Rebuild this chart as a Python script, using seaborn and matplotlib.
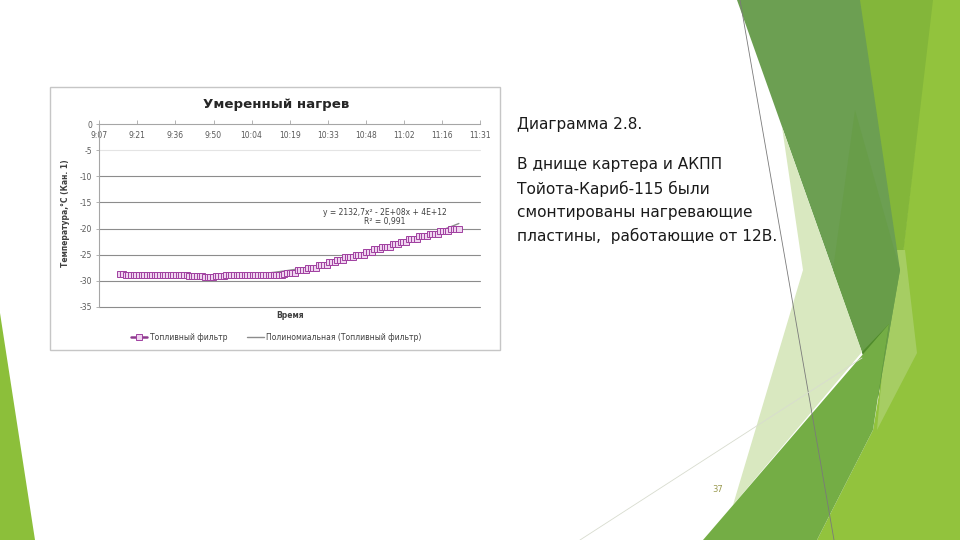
import numpy as np
import pandas as pd
import matplotlib.pyplot as plt
import seaborn as sns
from matplotlib.patches import Polygon, Rectangle
from matplotlib.lines import Line2D

sns.set_theme(style="white")
plt.rcParams['font.family'] = ['DejaVu Sans']

# chart data
chart_title = "Умеренный нагрев"
x_tick_labels = ["9:07", "9:21", "9:36", "9:50", "10:04", "10:19",
                 "10:33", "10:48", "11:02", "11:16", "11:31"]
y_ticks = [0, -5, -10, -15, -20, -25, -30, -35]
series_name = "Топливный фильтр"
trend_name = "Полиномиальная (Топливный фильтр)"
trend_eq = "y = 2132,7x² - 2E+08x + 4E+12"
trend_r2 = "R² = 0,991"

# logger readings every minute, 9:15 .. 11:23
times = pd.date_range("2000-01-01 09:15", "2000-01-01 11:23", freq="1min")
temps = [-28.8, -28.8, -28.9, -29.0, -29.0, -29.0, -29.0, -29.0, -29.0, -29.0,
         -29.0, -29.0, -29.0, -29.0, -29.0, -29.0, -29.0, -29.0, -29.0, -29.0,
         -29.0, -29.0, -29.0, -29.0, -29.0, -29.0, -29.1, -29.1, -29.2, -29.2,
         -29.2, -29.2, -29.3, -29.3, -29.3, -29.3, -29.2, -29.2, -29.1, -29.1,
         -29.0, -29.0, -29.0, -29.0, -29.0, -29.0, -29.0, -29.0, -29.0, -29.0,
         -29.0, -29.0, -29.0, -29.0, -29.0, -29.0, -29.0, -29.0, -29.0, -29.0,
         -29.0, -29.0,
         -28.8, -28.5, -28.5, -28.5, -28.5, -28.0, -28.0, -28.0, -28.0, -27.5,
         -27.5, -27.5, -27.5, -27.0, -27.0, -27.0, -27.0, -26.5, -26.5, -26.5,
         -26.0, -26.0, -26.0, -25.5, -25.5, -25.5, -25.5, -25.0, -25.0, -25.0,
         -25.0, -24.5, -24.5, -24.5, -24.0, -24.0, -24.0, -23.5, -23.5, -23.5,
         -23.5, -23.0, -23.0, -23.0, -22.5, -22.5, -22.5, -22.0, -22.0, -22.0,
         -22.0, -21.5, -21.5, -21.5, -21.5, -21.0, -21.0, -21.0, -21.0, -20.5,
         -20.5, -20.5, -20.5, -20.0, -20.0, -20.0, -20.0]

slide_heading = "Диаграмма 2.8."
slide_lines = ["В днище картера и АКПП",
               "Тойота-Кариб-115 были",
               "смонтированы нагревающие",
               "пластины,  работающие от 12В."]

df = pd.DataFrame({
    "t": (times - pd.Timestamp("2000-01-01 09:07")) / pd.Timedelta(minutes=1),
    "temp": temps,
})

fig = plt.figure(figsize=(9.6, 5.4), dpi=100)
fig.patch.set_facecolor("white")

# background layer in pixel coordinates (slide decoration)
bg = fig.add_axes([0, 0, 1, 1])
bg.set_xlim(0, 960)
bg.set_ylim(540, 0)
bg.axis("off")

shapes = [
    ([(0, 313), (35, 540), (0, 540)], "#8cbf3a"),
    ([(932, 0), (960, 0), (960, 540), (817, 540), (873, 430), (903, 250)], "#92c33d"),
    ([(859, 0), (933, 0), (903, 255), (880, 395)], "#83b63a"),
    ([(893, 250), (905, 250), (917, 353), (877, 430)], "#a6cd63"),
    ([(737, 0), (860, 0), (900, 270), (878, 397)], "#6c9f52"),
    ([(855, 110), (900, 270), (878, 397), (833, 270)], "#689d49"),
    ([(862, 352), (889, 324), (878, 397)], "#4f8a2b"),
    ([(782, 127), (862, 352), (733, 505), (803, 270)], "#d9e8c0"),
    ([(703, 540), (889, 324), (873, 430), (817, 540)], "#74ad45"),
]
for pts, col in shapes:
    bg.add_patch(Polygon(pts, closed=True, facecolor=col, edgecolor="none"))
bg.plot([740, 834], [0, 540], color="#7a7a7a", lw=0.6)
bg.plot([580, 862], [540, 358], color="#d8dccf", lw=0.6)

# chart frame
bg.add_patch(Rectangle((50, 87), 450, 263, facecolor="white", edgecolor="#c6c6c6", lw=1))

# chart
ax = fig.add_axes([99.3 / 960, 1 - 306.7 / 540, (480 - 99.3) / 960, (306.7 - 124.3) / 540])
ax.set_facecolor("none")

coef = np.polyfit(df["t"], df["temp"], 2)
xs = np.linspace(df["t"].min(), df["t"].max(), 200)
ax.plot(xs, np.polyval(coef, xs), color="#8c8c8c", lw=1, zorder=2)

purple = "#8e3a8e"
sns.lineplot(data=df, x="t", y="temp", ax=ax, color=purple, lw=1.8,
             marker="s", markersize=4.2, markerfacecolor="#f0d4f0",
             markeredgecolor="#a040a0", markeredgewidth=0.7, zorder=3)

ax.set_xlim(0, 144)
ax.set_ylim(-35, 0)
ax.set_xticks(np.linspace(0, 144, len(x_tick_labels)), x_tick_labels)
ax.set_yticks(y_ticks, [str(v) for v in y_ticks])
ax.xaxis.set_ticks_position("top")
ax.tick_params(axis="x", top=True, bottom=False, labeltop=True, labelbottom=False,
               direction="out", length=3, width=0.6, pad=-14.5,
               color="#a6a6a6", labelcolor="#595959", labelsize=5.5)
ax.tick_params(axis="y", left=True, direction="out", length=2, width=0.6, pad=3,
               color="#a6a6a6", labelcolor="#595959", labelsize=5.5)

ax.yaxis.grid(True, color="#8c8c8c", lw=0.8)
for gl, v in zip(ax.get_ygridlines(), y_ticks):
    gl.set_clip_on(False)
    if v == -5:
        gl.set_color("#e4e4e4")
    if v == 0:
        gl.set_visible(False)
ax.set_axisbelow(True)
for side in ["right", "bottom"]:
    ax.spines[side].set_visible(False)
ax.spines["top"].set_color("#a6a6a6")
ax.spines["left"].set_color("#a6a6a6")
ax.spines["top"].set_linewidth(0.8)
ax.spines["left"].set_linewidth(0.8)

ax.set_xlabel("Время", fontsize=5.5, fontweight="bold", color="#404040", va="center")
ax.xaxis.set_label_coords(0.5, -0.046)
ax.set_ylabel("Температура,°С (Кан. 1)", fontsize=5.5, fontweight="bold",
              color="#404040", va="center")
ax.yaxis.set_label_coords(-0.09, 0.51)

ax.text(0.75, 0.515, trend_eq, transform=ax.transAxes, ha="center", va="center",
        fontsize=5.5, color="#404040")
ax.text(0.75, 0.465, trend_r2, transform=ax.transAxes, ha="center", va="center",
        fontsize=5.5, color="#404040")

fig.text(276 / 960, 1 - 104 / 540, chart_title, ha="center", va="center",
         fontsize=9.6, fontweight="bold", color="#262626")

h1 = Line2D([], [], color=purple, lw=1.8, marker="s", markersize=4.2,
            markerfacecolor="#f0d4f0", markeredgecolor="#a040a0", markeredgewidth=0.7)
h2 = Line2D([], [], color="#8c8c8c", lw=1)
fig.legend(handles=[h1, h2], labels=[series_name, trend_name], loc="center",
           bbox_to_anchor=(276 / 960, 1 - 337 / 540), ncol=2, frameon=False,
           fontsize=5.5, labelcolor="#404040", handlelength=2.2,
           columnspacing=2.6, handletextpad=0.3)

# slide text
fig.text(517 / 960, 1 - 125 / 540, slide_heading, ha="left", va="center",
         fontsize=11.1, color="#1a1a1a")
for i, line in enumerate(slide_lines):
    fig.text(517 / 960, 1 - (165 + 23.5 * i) / 540, line, ha="left", va="center",
             fontsize=11.1, color="#1a1a1a")
fig.text(718 / 960, 1 - 489 / 540, "37", ha="center", va="center",
         fontsize=6, color="#9a9a50")

fig.savefig("out.png", dpi=100)
